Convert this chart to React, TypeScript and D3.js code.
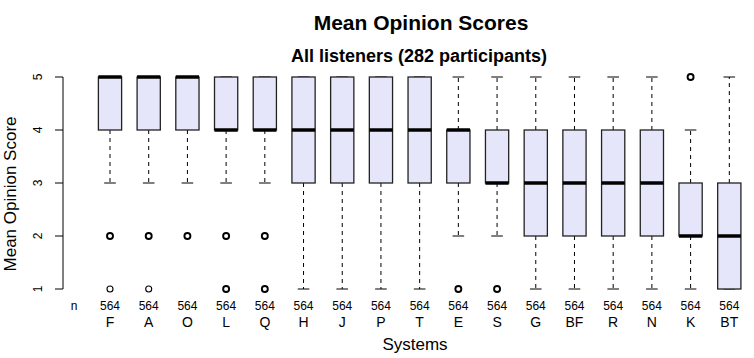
import React from "react";
import * as d3 from "d3";

const systems = ["F", "A", "O", "L", "Q", "H", "J", "P", "T", "E", "S", "G", "BF", "R", "N", "K", "BT"];
const q1 = [4, 4, 4, 4, 4, 3, 3, 3, 3, 3, 3, 2, 2, 2, 2, 2, 1];
const medians = [5, 5, 5, 4, 4, 4, 4, 4, 4, 4, 3, 3, 3, 3, 3, 2, 2];
const q3 = [5, 5, 5, 5, 5, 5, 5, 5, 5, 4, 4, 4, 4, 4, 4, 3, 3];
const whiskerLow = [3, 3, 3, 3, 3, 1, 1, 1, 1, 2, 2, 1, 1, 1, 1, 1, 1];
const whiskerHigh = [5, 5, 5, 5, 5, 5, 5, 5, 5, 5, 5, 5, 5, 5, 5, 4, 5];
const outliers: number[][] = [[2, 1], [2, 1], [2], [2, 1], [2, 1], [], [], [], [], [1], [1], [], [], [], [], [5], []];
// outliers drawn lighter (fewer overlapping points) : [systemIndex, value]
const lightOutliers: [number, number][] = [[0, 1], [1, 1]];
const counts = [564, 564, 564, 564, 564, 564, 564, 564, 564, 564, 564, 564, 564, 564, 564, 564, 564];
const yTicks = [1, 2, 3, 4, 5];

const FONT = "'Liberation Sans', Arial, Helvetica, sans-serif";

export default function App() {
  const width = 754;
  const height = 358;
  const x = d3.scalePoint<string>().domain(systems).range([110, 729.3]);
  const step = x.step();
  const y = d3.scaleLinear().domain([1, 5]).range([289, 77]);
  const boxW = step * 0.6;
  const capW = boxW * 0.5;
  const axisX = 63;

  return (
    <svg
      width={width}
      height={height}
      style={{ position: "absolute", left: 0, top: 0, background: "#fff" }}
      fontFamily={FONT}
    >
      <rect x={0} y={0} width={width} height={height} fill="#fff" />
      <text x={421} y={30} textAnchor="middle" fontSize={21} fontWeight="bold" fill="#000">
        Mean Opinion Scores
      </text>
      <text x={419} y={61.5} textAnchor="middle" fontSize={18} fontWeight="bold" fill="#000">
        All listeners (282 participants)
      </text>

      {/* y axis */}
      <line x1={axisX} x2={axisX} y1={y(1)} y2={y(5)} stroke="#000" strokeWidth={1} />
      {yTicks.map((t) => (
        <g key={t}>
          <line x1={axisX - 8} x2={axisX} y1={y(t)} y2={y(t)} stroke="#000" strokeWidth={1} />
          <text
            transform={`translate(42,${y(t)}) rotate(-90)`}
            textAnchor="middle"
            fontSize={12}
            fill="#000"
          >
            {t}
          </text>
        </g>
      ))}
      <text transform={`translate(16,194) rotate(-90)`} textAnchor="middle" fontSize={17} fill="#000">
        Mean Opinion Score
      </text>

      {/* boxes */}
      {systems.map((s, i) => {
        const cx = x(s)!;
        return (
          <g key={s}>
            <line x1={cx} x2={cx} y1={y(q1[i])} y2={y(whiskerLow[i])} stroke="#000" strokeWidth={1} strokeDasharray="4,4" />
            <line x1={cx} x2={cx} y1={y(q3[i])} y2={y(whiskerHigh[i])} stroke="#000" strokeWidth={1} strokeDasharray="4,4" />
            <line x1={cx - capW / 2} x2={cx + capW / 2} y1={y(whiskerLow[i])} y2={y(whiskerLow[i])} stroke="#000" strokeWidth={1} />
            <line x1={cx - capW / 2} x2={cx + capW / 2} y1={y(whiskerHigh[i])} y2={y(whiskerHigh[i])} stroke="#000" strokeWidth={1} />
            <rect
              x={cx - boxW / 2}
              y={y(q3[i])}
              width={boxW}
              height={y(q1[i]) - y(q3[i])}
              fill="#E6E6FA"
              stroke="#222"
              strokeWidth={1.3}
            />
            <line x1={cx - boxW / 2} x2={cx + boxW / 2} y1={y(medians[i])} y2={y(medians[i])} stroke="#000" strokeWidth={3.5} />
            {outliers[i].map((v) => {
              const light = lightOutliers.some(([si, vv]) => si === i && vv === v);
              return (
                <circle key={v} cx={cx} cy={y(v)} r={3} fill="none" stroke="#000" strokeWidth={light ? 1.1 : 1.9} />
              );
            })}
            <text x={cx} y={310} textAnchor="middle" fontSize={12} fill="#000">
              {counts[i]}
            </text>
            <text x={cx} y={326.5} textAnchor="middle" fontSize={14} fill="#000">
              {s}
            </text>
          </g>
        );
      })}
      <text x={x(systems[0])! - 36} y={310} textAnchor="middle" fontSize={12} fill="#000">
        n
      </text>
      <text x={415} y={350} textAnchor="middle" fontSize={17} fill="#000">
        Systems
      </text>
    </svg>
  );
}
